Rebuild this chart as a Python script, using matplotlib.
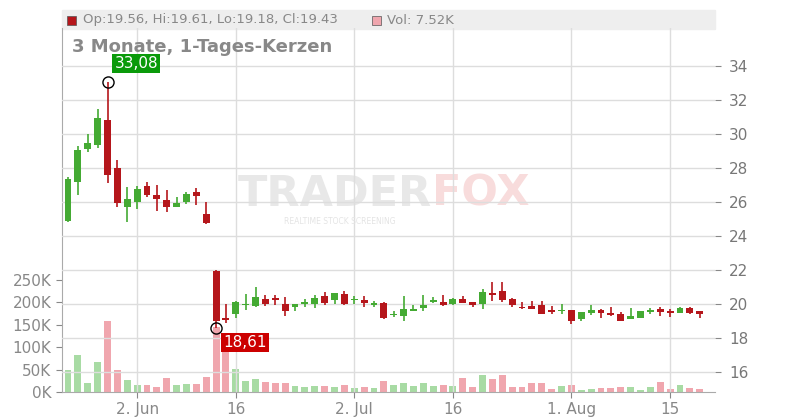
import matplotlib
matplotlib.use("Agg")
import matplotlib.pyplot as plt
from matplotlib.patches import Rectangle

opens  = [24.9,27.19,29.14,29.37,30.82,28.0,25.73,25.98,26.94,26.4,26.1,25.73,26.0,26.6,25.3,21.92,19.18,19.43,19.94,19.88,20.29,20.35,20.0,19.84,20.0,20.0,20.47,20.24,20.59,20.22,20.24,19.96,20.06,19.35,19.31,19.6,19.78,20.12,20.12,20.0,20.29,20.12,20.02,20.65,20.76,20.29,19.82,19.88,19.94,19.65,19.6,19.65,19.14,19.47,19.65,19.49,19.41,19.12,19.2,19.53,19.7,19.59,19.47,19.76,19.56]
closes = [27.33,29.06,29.47,30.94,27.6,25.96,26.18,26.76,26.43,26.18,25.73,25.94,26.5,26.37,24.78,19.02,19.06,20.12,19.96,20.41,20.0,20.24,19.6,20.0,20.12,20.35,20.06,20.65,20.0,20.24,20.06,20.06,19.16,19.37,19.7,19.7,19.94,20.24,19.94,20.29,20.06,19.94,20.71,20.55,20.24,19.94,19.76,19.7,19.43,19.53,19.62,19.02,19.53,19.65,19.47,19.37,19.02,19.29,19.59,19.65,19.53,19.47,19.76,19.47,19.43]
highs  = [27.5,29.3,30.0,31.5,33.08,28.47,26.9,26.95,27.2,27.0,26.7,26.3,26.6,26.8,26.0,22.0,20.0,20.2,20.6,21.0,20.5,20.55,20.4,20.0,20.3,20.5,20.7,20.65,20.75,20.45,20.45,20.2,20.1,19.6,20.47,19.95,20.55,20.4,20.5,20.35,20.45,20.1,20.9,21.3,21.3,20.35,20.1,20.2,20.2,19.9,20.0,19.65,19.53,19.95,19.7,19.8,19.55,19.75,19.6,19.75,19.85,19.7,19.85,19.85,19.61]
lows   = [24.8,26.4,28.96,29.2,27.14,25.72,24.8,25.6,26.3,25.5,25.4,25.73,25.9,25.8,24.7,18.61,18.9,19.2,19.65,19.8,19.9,19.95,19.3,19.6,19.85,19.75,19.95,20.0,19.95,20.0,19.85,19.85,19.1,19.25,19.0,19.6,19.6,20.05,19.9,19.95,20.06,19.85,19.68,20.2,20.1,19.85,19.7,19.7,19.43,19.4,19.4,18.8,19.0,19.35,19.2,19.3,19.02,19.1,19.2,19.4,19.3,19.25,19.55,19.4,19.18]
volumes = [49,83,21,67,159,49,27,16,16,11,31,16,18,18,33,145,105,51,25,30,22,20,20,13,11,13,13,11,16,9,11,9,25,16,20,13,20,13,16,13,31,11,39,28,39,12,12,21,19,7,14,16,5,7,10,10,12,12,5,12,23,7,16,10,7.52]
tick_idx = [7,17,29,39,51,61]
tick_labels = ["2. Jun","16","2. Jul","16","1. Aug","15"]
price_ticks = [16,18,20,22,24,26,28,30,32,34]
vol_ticks = [0,50,100,150,200,250]

GREEN, RED = "#44aa33", "#b5161b"
VGREEN, VRED = "#a8dba4", "#f0a6ae"

fig = plt.figure(figsize=(8,4.2), dpi=100)
W, H = 800, 420
ax = fig.add_axes([62/W, 28/H, 653/W, 364/H])
axv = ax.twinx()
ax.set_zorder(2); ax.patch.set_visible(False)
axv.set_zorder(1)
ax.set_xlim(-0.61, 65.55)
ax.set_ylim(14.82, 36.24)
axv.set_ylim(0, 812)

for t in price_ticks:
    ax.axhline(t, color="#dddddd", lw=1, zorder=0)
for i in tick_idx:
    ax.axvline(i, color="#dddddd", lw=1, zorder=0)

for i,(o,c,h,l,v) in enumerate(zip(opens,closes,highs,lows,volumes)):
    up = c >= o
    col = GREEN if up else RED
    ax.plot([i,i],[l,h], color=col, lw=1.2, zorder=3, solid_capstyle="butt")
    b = max(abs(c-o), 0.06)
    ax.add_patch(Rectangle((i-0.35, min(o,c)), 0.7, b, color=col, zorder=4, lw=0))
    axv.bar(i, v, width=0.7, color=VGREEN if up else VRED, zorder=2)

ax.yaxis.tick_right()
ax.set_yticks(price_ticks)
ax.set_yticklabels([str(t) for t in price_ticks])
axv.yaxis.tick_left()
axv.set_yticks(vol_ticks)
axv.set_yticklabels([f"{t}K" for t in vol_ticks])
ax.set_xticks(tick_idx)
ax.set_xticklabels(tick_labels)
for a in (ax, axv):
    a.tick_params(colors="#888888", labelsize=11, length=4)
    for s in a.spines.values():
        s.set_visible(False)
axv.spines["left"].set_visible(True); axv.spines["left"].set_color("#aaaaaa")
ax.spines["bottom"].set_visible(True); ax.spines["bottom"].set_color("#aaaaaa")
ax.tick_params(axis="y", colors="#888888", labelcolor="#777777", pad=6)

# watermark
fig.text(432/W, 1-194/H, "TRADER", fontsize=31, fontweight="bold", color="#e8e8e8", ha="right", va="center", zorder=0)
fig.text(432/W, 1-194/H, "FOX", fontsize=31, fontweight="bold", color="#f8dcdc", ha="left", va="center", zorder=0)
fig.text(340/W, 1-222/H, "REALTIME STOCK SCREENING", fontsize=5.5, color="#e4e4e4", ha="center", va="center")

# header
fig.patches.append(Rectangle((62/W, 1-29/H), 653/W, 19/H, transform=fig.transFigure, color="#eeeeee", zorder=0))
fig.patches.append(Rectangle((67/W, 1-25/H), 9/W, 9/H, transform=fig.transFigure, facecolor=RED, edgecolor="#555555", lw=0.5))
fig.text(83/W, 1-20/H, "Op:19.56, Hi:19.61, Lo:19.18, Cl:19.43", fontsize=9.5, color="#888888", va="center")
fig.patches.append(Rectangle((372/W, 1-25/H), 9/W, 9/H, transform=fig.transFigure, facecolor=VRED, edgecolor="#555555", lw=0.5))
fig.text(387/W, 1-20/H, "Vol: 7.52K", fontsize=9.5, color="#888888", va="center")
fig.text(72/W, 1-47/H, "3 Monate, 1-Tages-Kerzen", fontsize=13, fontweight="bold", color="#888888", va="center")

# annotations
ax.plot(4, 33.08, marker="o", mfc="none", mec="black", ms=8, zorder=6)
ax.annotate("33,08", (4, 33.08), xytext=(5, 10), textcoords="offset points", fontsize=11, color="white",
            bbox=dict(boxstyle="square,pad=0.15", fc="#0a9a0a", ec="none"), zorder=7)
ax.plot(15, 18.61, marker="o", mfc="none", mec="black", ms=8, zorder=6)
ax.annotate("18,61", (15, 18.61), xytext=(5, -14), textcoords="offset points", fontsize=11, color="white",
            bbox=dict(boxstyle="square,pad=0.15", fc="#cc0000", ec="none"), zorder=7)

fig.savefig("out.png", dpi=100)
